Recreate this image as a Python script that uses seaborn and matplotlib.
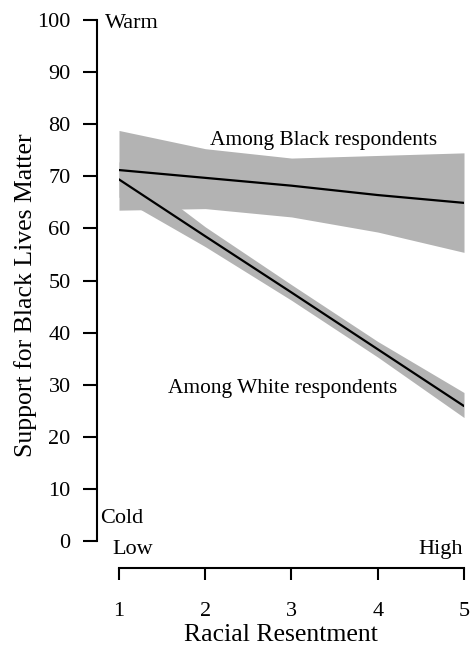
import pandas as pd
import matplotlib.pyplot as plt
import seaborn as sns

# Predicted support by racial resentment level
resentment = [1, 2, 3, 4, 5]

black_fit = [71.2, 69.7, 68.2, 66.4, 64.9]
black_lo = [63.5, 63.8, 62.2, 59.3, 55.4]
black_hi = [78.8, 75.3, 73.5, 74.0, 74.5]

white_fit = [69.4, 58.5, 47.7, 36.8, 25.9]
white_lo = [66.0, 56.5, 46.2, 35.3, 23.7]
white_hi = [72.8, 60.3, 49.2, 38.3, 28.5]

y_ticks = [0, 10, 20, 30, 40, 50, 60, 70, 80, 90, 100]

df = pd.DataFrame({
    "Racial Resentment": resentment * 2,
    "Support": black_fit + white_fit,
    "Group": ["Black"] * 5 + ["White"] * 5,
})

sns.set_theme(style="ticks")
plt.rcParams["font.family"] = ["Liberation Serif", "DejaVu Serif"]
plt.rcParams["text.color"] = "black"
plt.rcParams["axes.labelcolor"] = "black"

fig = plt.figure(figsize=(4.77, 6.47), dpi=100)
fig.subplots_adjust(left=119 / 477, right=464 / 477, top=1 - 20 / 647, bottom=1 - 541 / 647)
ax = fig.add_subplot(111)

band = "#B3B3B3"
ax.fill_between(resentment, black_lo, black_hi, color=band, lw=0)
ax.fill_between(resentment, white_lo, white_hi, color=band, lw=0)

sns.lineplot(data=df, x="Racial Resentment", y="Support", hue="Group",
             palette=["black", "black"], linewidth=1.6, legend=False, ax=ax)

ax.set_xlim(1, 5)
ax.set_ylim(0, 100)
ax.set_xticks(resentment)
ax.set_yticks(y_ticks)

sns.despine(ax=ax)
ax.spines["left"].set_position(("outward", 15.8))
ax.spines["bottom"].set_position(("outward", 19.4))
for s in ["left", "bottom"]:
    ax.spines[s].set_linewidth(1.5)
    ax.spines[s].set_color("black")

ax.tick_params(axis="y", length=10, width=1.5, pad=9, labelsize=16, colors="black")
ax.tick_params(axis="x", length=8.6, width=1.5, pad=16, labelsize=16, colors="black")

ax.set_xlabel("Racial Resentment", fontsize=18.5)
ax.set_ylabel("Support for Black Lives Matter", fontsize=18.5, va="center")
ax.xaxis.set_label_coords((281 - 119) / 345, (541 - 624) / 521)
ax.yaxis.set_label_coords((26 - 119) / 345, (541 - 295) / 521)

fs = 15.4
ax.text(0.838, 98.5, "Warm", fontsize=16, va="baseline", ha="left", clip_on=False)
ax.text(0.78, 3.45, "Cold", fontsize=16, va="baseline", ha="left", clip_on=False)
ax.text(0.92, -2.5, "Low", fontsize=16, va="baseline", ha="left", clip_on=False)
ax.text(4.99, -2.5, "High", fontsize=16, va="baseline", ha="right", clip_on=False)
ax.text(2.055, 76.1, "Among Black respondents", fontsize=fs, va="baseline", ha="left")
ax.text(1.572, 28.35, "Among White respondents", fontsize=fs, va="baseline", ha="left")

fig.savefig("out.png", dpi=100)
